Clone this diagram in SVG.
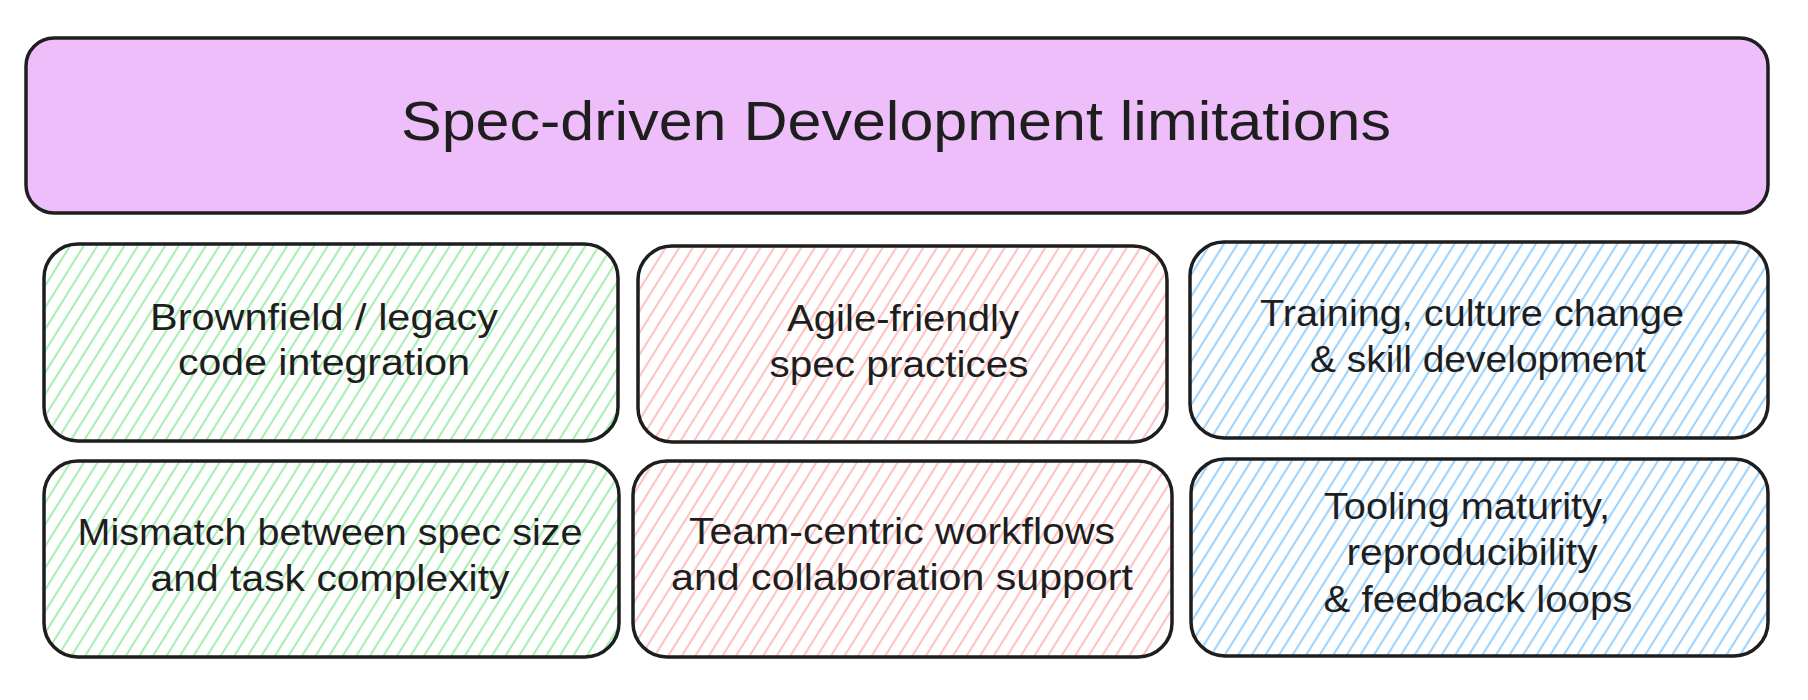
<svg xmlns="http://www.w3.org/2000/svg" width="1808" height="700" viewBox="0 0 1808 700">
<style>
.box{stroke:#1e1e1e;stroke-width:3.5;stroke-linejoin:round}
.t{font-family:"Liberation Sans","DejaVu Sans",sans-serif;fill:#1e1e1e;text-anchor:middle;font-size:37px}
.title{font-size:55px}
</style>
<defs>
<pattern id="hg" width="11.5" height="11.5" patternUnits="userSpaceOnUse" patternTransform="rotate(32)"><line x1="5.75" y1="-1" x2="5.75" y2="12.5" stroke="#a8eeb2" stroke-width="2.1"/></pattern>
<pattern id="hr" width="11.5" height="11.5" patternUnits="userSpaceOnUse" patternTransform="rotate(32)"><line x1="5.75" y1="-1" x2="5.75" y2="12.5" stroke="#ffc2c2" stroke-width="2.1"/></pattern>
<pattern id="hb" width="11.5" height="11.5" patternUnits="userSpaceOnUse" patternTransform="rotate(32)"><line x1="5.75" y1="-1" x2="5.75" y2="12.5" stroke="#9dd3fd" stroke-width="2.1"/></pattern>
</defs>
<rect width="1808" height="700" fill="#ffffff"/>
<g id="title">
<rect class="box" x="26" y="38" width="1742" height="175" rx="28" fill="#eebefa"/>
<text class="t title" x="896" y="140" textLength="990" lengthAdjust="spacingAndGlyphs">Spec-driven Development limitations</text>
</g>
<g id="brownfield">
<rect class="box" x="44" y="244" width="574" height="197" rx="34" fill="url(#hg)"/>
<text class="t" x="324" y="330" textLength="348" lengthAdjust="spacingAndGlyphs">Brownfield / legacy</text>
<text class="t" x="324" y="375" textLength="292" lengthAdjust="spacingAndGlyphs">code integration</text>
</g>
<g id="agile">
<rect class="box" x="638" y="246" width="529" height="196" rx="34" fill="url(#hr)"/>
<text class="t" x="903" y="331" textLength="232" lengthAdjust="spacingAndGlyphs">Agile-friendly</text>
<text class="t" x="899" y="377" textLength="259" lengthAdjust="spacingAndGlyphs">spec practices</text>
</g>
<g id="training">
<rect class="box" x="1190" y="242" width="578" height="196" rx="34" fill="url(#hb)"/>
<text class="t" x="1472" y="326" textLength="424" lengthAdjust="spacingAndGlyphs">Training, culture change</text>
<text class="t" x="1478" y="372" textLength="336" lengthAdjust="spacingAndGlyphs">&amp; skill development</text>
</g>
<g id="mismatch">
<rect class="box" x="44" y="461" width="575" height="196" rx="34" fill="url(#hg)"/>
<text class="t" x="330" y="545" textLength="505" lengthAdjust="spacingAndGlyphs">Mismatch between spec size</text>
<text class="t" x="330" y="591" textLength="359" lengthAdjust="spacingAndGlyphs">and task complexity</text>
</g>
<g id="team">
<rect class="box" x="633" y="461" width="539" height="196" rx="34" fill="url(#hr)"/>
<text class="t" x="902" y="544" textLength="426" lengthAdjust="spacingAndGlyphs">Team-centric workflows</text>
<text class="t" x="902" y="590" textLength="462" lengthAdjust="spacingAndGlyphs">and collaboration support</text>
</g>
<g id="tooling">
<rect class="box" x="1191" y="459" width="577" height="197" rx="34" fill="url(#hb)"/>
<text class="t" x="1467" y="519" textLength="286" lengthAdjust="spacingAndGlyphs">Tooling maturity,</text>
<text class="t" x="1472" y="565" textLength="251" lengthAdjust="spacingAndGlyphs">reproducibility</text>
<text class="t" x="1478" y="612" textLength="309" lengthAdjust="spacingAndGlyphs">&amp; feedback loops</text>
</g>
<g id="connectors"/>
</svg>
